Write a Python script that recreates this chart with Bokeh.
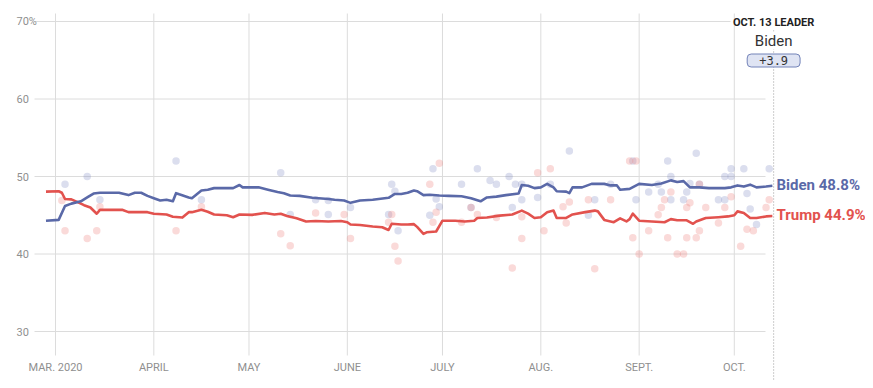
import pandas as pd
from bokeh.plotting import figure
from bokeh.models import Range1d
from bokeh.core.properties import value
from bokeh.embed import file_html
from bokeh.resources import INLINE

# ---------------- data ----------------
START = pd.Timestamp("2020-03-01")

month_ticks = ["2020-03-01", "2020-04-01", "2020-05-01", "2020-06-01",
               "2020-07-01", "2020-08-01", "2020-09-01", "2020-10-01"]
month_labels = ["MAR. 2020", "APRIL", "MAY", "JUNE", "JULY", "AUG.", "SEPT.", "OCT."]

y_ticks = [30, 40, 50, 60, 70]
y_labels = ["30", "40", "50", "60", "70%"]

# polling average (day offset from Mar 1, value)
biden_days = [-3, 1, 3, 5, 8, 10, 12, 14, 20, 23, 25, 27, 29, 31, 33, 35, 37, 38, 39, 42, 43,
              46, 48, 50, 56, 58, 59, 62, 64, 67, 69, 70, 72, 74, 77, 81, 86, 88, 91, 93, 96,
              100, 105, 107, 109, 111, 113, 114, 116, 118, 121, 124, 128, 131, 134, 136, 139,
              142, 146, 147, 149, 151, 153, 155, 157, 158, 161, 162, 163, 166, 169, 173, 175,
              177, 178, 181, 184, 188, 191, 194, 196, 198, 200, 203, 206, 211, 213, 215, 217,
              219, 221, 224, 226]
biden_avg = [44.3, 44.4, 46.2, 46.5, 46.8, 47.3, 47.8, 47.9, 47.9, 47.6, 47.9, 47.9, 47.5, 47.2,
             46.9, 47.0, 46.8, 47.85, 47.7, 47.3, 47.2, 48.2, 48.3, 48.5, 48.5, 48.9, 48.6, 48.6,
             48.6, 48.3, 48.1, 48.0, 47.85, 47.55, 47.5, 47.25, 47.1, 47.0, 46.9, 46.6, 46.9,
             47.0, 47.25, 47.75, 47.75, 47.9, 48.2, 48.1, 47.6, 47.65, 47.55, 47.5, 47.45, 47.2,
             46.8, 47.3, 47.4, 47.6, 47.8, 48.9, 48.8, 48.5, 48.6, 49.05, 48.6, 48.1, 48.05,
             47.85, 48.6, 48.6, 49.05, 49.05, 48.85, 48.85, 48.3, 48.4, 49.05, 48.9, 49.1, 49.5,
             49.3, 49.4, 48.6, 48.6, 48.5, 48.5, 48.6, 48.85, 48.7, 48.95, 48.6, 48.7, 48.8]

trump_days = [-3, 1, 2, 3, 5, 7, 9, 11, 13, 14, 17, 21, 23, 25, 29, 31, 35, 37, 40, 42, 43, 46,
              48, 50, 54, 56, 58, 62, 66, 69, 71, 73, 76, 79, 82, 86, 90, 92, 93, 96, 100, 103,
              105, 106, 109, 111, 113, 114, 116, 117, 120, 122, 126, 129, 132, 133, 136, 140,
              144, 147, 149, 151, 153, 155, 157, 158, 161, 163, 167, 170, 171, 173, 176, 178,
              180, 181, 182, 184, 188, 192, 194, 196, 199, 201, 202, 205, 209, 212, 214, 215,
              217, 219, 221, 224, 226]
trump_avg = [48.05, 48.1, 47.9, 47.1, 47.05, 46.7, 46.3, 46.0, 45.2, 45.7, 45.7, 45.7, 45.4,
             45.4, 45.4, 45.2, 45.1, 44.8, 44.7, 45.4, 45.4, 45.7, 45.45, 45.1, 45.0, 44.75,
             45.1, 45.05, 45.3, 45.1, 45.2, 44.9, 44.6, 44.2, 44.25, 44.2, 44.25, 44.1, 43.8,
             43.75, 43.55, 43.45, 43.1, 43.9, 43.8, 43.8, 43.85, 43.5, 42.6, 42.8, 42.9, 44.3,
             44.3, 44.2, 44.3, 44.65, 44.7, 44.95, 45.1, 45.6, 45.2, 44.65, 44.75, 45.4, 45.6,
             44.65, 44.65, 45.1, 45.4, 45.6, 45.5, 44.4, 44.1, 44.6, 44.2, 44.5, 45.2, 44.3,
             44.2, 44.1, 44.5, 44.35, 44.35, 43.9, 44.2, 44.65, 44.75, 44.85, 45.0, 45.5, 45.3,
             44.65, 44.65, 44.85, 44.9]

# individual polls (day offset, value)
biden_poll_days = [3, 10, 14, 38, 46, 71, 74, 82, 86, 86, 93, 106, 107, 105, 108, 119, 120, 121,
                   118, 128, 133, 131, 137, 139, 143, 145, 147, 147, 144, 152, 156, 162, 168,
                   170, 175, 182, 183, 187, 190, 191, 193, 194, 194, 198, 199, 200, 202, 203,
                   209, 211, 211, 213, 213, 217, 218, 219, 221, 225]
biden_polls = [49.0, 50.0, 47.0, 52.0, 47.0, 50.5, 45.1, 47.0, 46.9, 45.1, 46.0, 49.0, 48.1,
               45.1, 43.0, 51.0, 47.1, 46.1, 45.0, 49.0, 51.0, 46.0, 49.5, 49.0, 50.0, 49.0,
               49.0, 47.0, 46.0, 47.3, 49.0, 53.3, 45.0, 47.0, 49.0, 52.0, 47.0, 48.0, 49.0,
               48.0, 52.0, 50.0, 47.0, 47.0, 48.0, 49.1, 53.0, 49.0, 47.0, 47.0, 50.0, 51.0,
               50.0, 51.0, 47.8, 45.8, 43.8, 51.0]

trump_poll_days = [2, 3, 10, 13, 14, 38, 46, 71, 74, 82, 91, 93, 106, 105, 107, 108, 118, 121,
                   120, 119, 128, 131, 133, 139, 147, 147, 152, 154, 156, 144, 160, 162, 161,
                   168, 170, 175, 182, 183, 181, 184, 187, 190, 191, 192, 193, 194, 196, 198,
                   199, 200, 199, 202, 203, 203, 205, 209, 211, 213, 216, 218, 220, 224, 225]
trump_polls = [46.9, 43.0, 42.0, 43.0, 46.1, 43.0, 46.1, 42.6, 41.05, 45.3, 45.1, 42.0, 45.1,
               44.1, 41.0, 39.1, 49.0, 51.7, 45.4, 44.1, 44.1, 46.0, 45.1, 44.7, 44.8, 42.0,
               50.5, 43.0, 51.0, 38.2, 46.1, 46.7, 44.0, 47.0, 38.1, 47.0, 42.1, 52.0, 52.0,
               40.0, 43.0, 45.05, 46.0, 47.0, 42.1, 48.0, 40.0, 40.0, 42.1, 46.6, 46.0, 42.1,
               43.0, 49.0, 46.0, 44.0, 46.0, 47.4, 41.0, 43.2, 43.0, 46.0, 47.0]

leader_date = "OCT. 13 LEADER"
leader_name = "Biden"
leader_margin = "+3.9"
biden_label = "Biden 48.8%"
trump_label = "Trump 44.9%"

# ---------------- styling ----------------
BLUE = "#5a69a8"
RED = "#e2524e"
GRID = "#dcdcdc"
TICK = "#8f8f8f"

PX_DAY = 3.172
PX_VAL = 7.75
W, H = 865, 380
x0 = -55 / PX_DAY
y_top = 50 + 176 / PX_VAL

p = figure(width=W, height=H, output_backend="svg", toolbar_location=None,
           x_range=Range1d(x0, x0 + W / PX_DAY),
           y_range=Range1d(y_top - H / PX_VAL, y_top),
           min_border=0, outline_line_color=None)
p.axis.visible = False
p.grid.visible = False
p.background_fill_color = "white"

def px_to_day(px):
    return (px - 55) / PX_DAY

def py_to_val(py):
    return 50 - (py - 176) / PX_VAL

mdays = [(pd.Timestamp(d) - START).days for d in month_ticks]
last_day = biden_days[-1]
mark_x = last_day + 0.4

# horizontal grid
hx1 = [px_to_day(765) if t != 70 else px_to_day(730) for t in y_ticks]
p.segment(x0=[px_to_day(34)] * len(y_ticks), y0=y_ticks, x1=hx1, y1=y_ticks,
          line_color=GRID, line_width=1)
# vertical grid
p.segment(x0=mdays, y0=[py_to_val(13)] * len(mdays), x1=mdays, y1=[py_to_val(355)] * len(mdays),
          line_color=GRID, line_width=1)

# tick labels
p.text(x=[px_to_day(16)] * len(y_ticks), y=y_ticks, text=y_labels,
       text_font=value("Roboto"), text_font_size="11px", text_color=TICK,
       text_align="left", text_baseline="middle")
p.text(x=mdays, y=[py_to_val(367)] * len(mdays), text=month_labels,
       text_font=value("Roboto"), text_font_size="11px", text_color=TICK,
       text_align="center", text_baseline="middle")

# polls
p.scatter(x=biden_poll_days, y=biden_polls, size=7.5, fill_color="#7d89c2", fill_alpha=0.28,
          line_color=None)
p.scatter(x=trump_poll_days, y=trump_polls, size=7.5, fill_color="#ee7a78", fill_alpha=0.28,
          line_color=None)

# averages
p.line(x=trump_days, y=trump_avg, line_color=RED, line_width=2.6, line_join="round")
p.line(x=biden_days, y=biden_avg, line_color=BLUE, line_width=2.6, line_join="round")

# leader marker
p.segment(x0=[mark_x], y0=[py_to_val(30)], x1=[mark_x], y1=[py_to_val(381)],
          line_color="#9a9a9a", line_width=1, line_dash="1 2")

p.text(x=[mark_x], y=[py_to_val(22)], text=[leader_date],
       text_font=value("Roboto"), text_font_style="bold", text_font_size="11px",
       text_color="#222222", text_align="center", text_baseline="middle")
p.text(x=[mark_x], y=[py_to_val(40)], text=[leader_name],
       text_font=value("Roboto"), text_font_size="15px",
       text_color="#333333", text_align="center", text_baseline="middle",
       background_fill_color="white")
p.text(x=[mark_x], y=[py_to_val(60)], text=[leader_margin],
       text_font=value("DejaVu Sans Mono"), text_font_size="12px",
       text_color="#333333", text_align="center", text_baseline="middle",
       background_fill_color="#dfe4f3", border_line_color="#7383b8", border_line_width=1,
       padding=(12, 2), border_radius=4)

# end labels
p.text(x=[px_to_day(776)], y=[py_to_val(184)], text=[biden_label],
       text_font=value("Roboto"), text_font_style="bold", text_font_size="15px",
       text_color=BLUE, text_align="left", text_baseline="middle")
p.text(x=[px_to_day(776)], y=[py_to_val(214.5)], text=[trump_label],
       text_font=value("Roboto"), text_font_style="bold", text_font_size="15px",
       text_color=RED, text_align="left", text_baseline="middle")

open("out.html", "w").write(file_html(p, INLINE))
